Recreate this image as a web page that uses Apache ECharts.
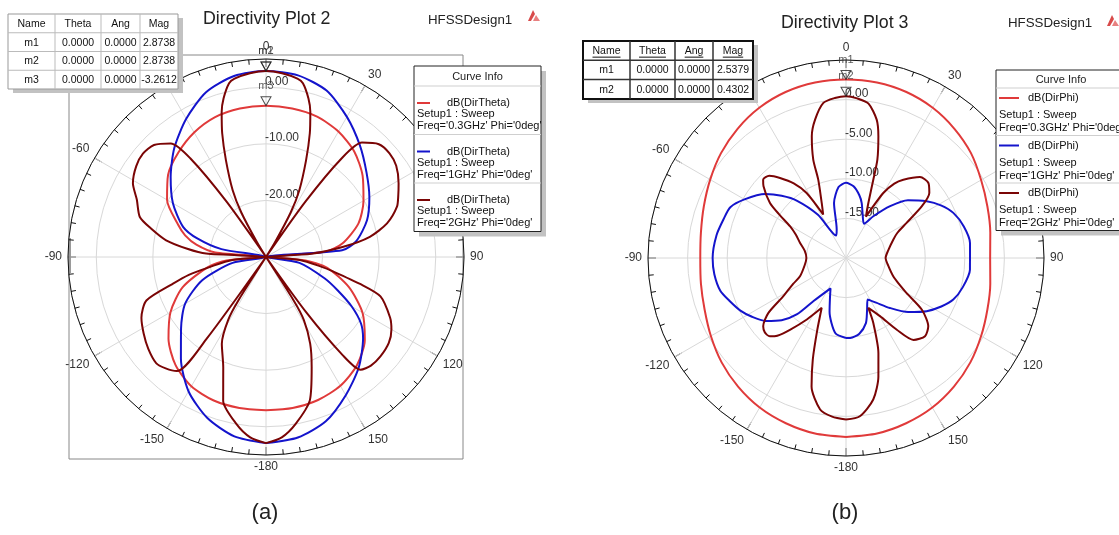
<!DOCTYPE html>
<html>
<head>
<meta charset="utf-8">
<script src="https://cdn.jsdelivr.net/npm/echarts@6/dist/echarts.min.js"></script>
<style>
html, body { margin: 0; padding: 0; background: #fff; }
#chart { width: 1119px; height: 535px; }
</style>
</head>
<body>
<div id="chart"></div>
<script>
// ---- Directivity data: [theta (deg, 0 = top, clockwise), directivity (dB)] ----

// Directivity Plot 2 : dB(DirTheta), Phi = 0deg
const plot2Freq03 = [[-180,-2.9],[-170,-2.9],[-160,-3.0],[-150,-3.6],[-140,-5.1],[-130,-7.5],[-120,-10.5],[-110,-14.3],[-100,-19.5],[-95,-23],[-90,-30],[-85,-21],[-80,-17.5],[-75,-15.2],[-70,-13.5],[-60,-9.8],[-50,-7.4],[-40,-5.9],[-30,-4.6],[-20,-3.7],[-10,-3.35],[0,-3.2612],[10,-3.35],[20,-3.6],[30,-4.4],[40,-5.7],[50,-7.7],[60,-10.1],[70,-12.6],[80,-16.3],[85,-19.5],[90,-30],[95,-23],[100,-19],[110,-14.4],[120,-10.3],[130,-7.2],[140,-5.0],[150,-3.7],[160,-3.1],[170,-2.9],[180,-2.9]];
const plot2Freq1 = [[-180,2.9],[-170,2.2],[-160,0.3],[-150,-2.6],[-140,-6.6],[-130,-10.4],[-120,-13.5],[-110,-18],[-100,-24],[-90,-30],[-80,-22],[-75,-17.5],[-70,-14.4],[-60,-11],[-50,-8.0],[-40,-4.8],[-30,-1.8],[-20,1.0],[-10,2.5],[0,2.8738],[10,2.6],[20,1.3],[30,-1.4],[40,-4.2],[50,-6.8],[60,-8.9],[70,-11.0],[80,-13.8],[85,-16.5],[90,-30],[100,-24],[110,-19],[115,-16],[120,-12.5],[125,-9.5],[130,-7.6],[140,-4.5],[150,-1.8],[160,0.9],[170,2.4],[180,2.9]];
const plot2Freq2 = [[-180,2.9],[-175,2.0],[-170,0.0],[-163.4,-3.5],[-158.8,-9.1],[-153,-12.8],[-149,-17],[-147.5,-21],[-145.5,-30],[-144,-12],[-142,-4.4],[-138,-3.5],[-134,-3.0],[-128,-3.6],[-122,-4.5],[-116,-5.5],[-110,-7.5],[-106,-12.9],[-103,-16],[-100,-20],[-95,-24],[-90,-30],[-86.7,-19.4],[-84,-16],[-80.5,-12.1],[-76,-9],[-72.4,-6.6],[-66,-5],[-61,-3.1],[-55,-2.0],[-50,-1.6],[-45,-2.0],[-40,-3.8],[-37.5,-8],[-35.5,-18],[-33,-30],[-31.5,-27],[-29,-21],[-26.5,-16.8],[-22.5,-11.5],[-19.5,-6.8],[-17,-3.2],[-15,-1.0],[-12,1.4],[-10,2.0],[-5,2.6],[0,2.8738],[5,2.6],[10,2.0],[12,1.4],[15,-1.0],[17,-3.2],[19.5,-6.8],[22.5,-11.5],[26.5,-16.8],[29,-21],[31.5,-27],[33,-30],[35.5,-18],[37.5,-8],[40,-3.6],[45,-1.8],[50,-1.5],[55,-1.9],[61,-3.2],[65,-4.2],[69,-5.2],[74.5,-7.8],[79,-11.3],[82.5,-16.2],[86,-22],[90,-30],[95,-24],[100,-20],[102,-18],[106,-12.7],[109,-8.6],[116,-5.6],[120,-4.4],[125,-3.5],[131,-3.2],[136,-3.3],[140,-4.0],[142,-8],[144,-18],[145.5,-30],[147.5,-21],[149,-17],[153,-12.8],[157.5,-8.9],[163,-3.5],[170,0.0],[175,2.0],[180,2.9]];

// Directivity Plot 3 : dB(DirPhi), Phi = 0deg
const plot3Freq03 = [[-180,2.6],[-170,2.5],[-160,2.2],[-150,1.8],[-140,1.2],[-130,0.5],[-120,-0.3],[-110,-1.0],[-100,-1.4],[-90,-1.6],[-80,-1.4],[-70,-0.9],[-60,-0.2],[-50,0.6],[-40,1.3],[-30,1.9],[-20,2.3],[-10,2.5],[0,2.5379],[10,2.5],[20,2.3],[30,1.9],[40,1.3],[50,0.6],[60,-0.3],[70,-1.0],[80,-1.5],[90,-1.8],[100,-1.5],[110,-1.0],[120,-0.3],[130,0.5],[140,1.2],[150,1.8],[160,2.2],[170,2.5],[180,2.6]];
const plot3Freq1 = [[-180,-9.9],[-172,-10.4],[-163,-12.9],[-158,-14.6],[-153,-15.7],[-143,-13.2],[-139,-10.6],[-134,-8.7],[-128,-7.1],[-122,-6.0],[-116.5,-5.1],[-110,-4.3],[-104.6,-3.6],[-97,-3.25],[-90,-3.16],[-80,-3.4],[-72,-3.8],[-66.3,-4.05],[-60,-5.2],[-51.6,-7.0],[-46,-8.7],[-40.5,-10.5],[-33,-13.5],[-24,-16.9],[-18,-16.2],[-12.3,-12.9],[-6,-11.0],[0,-10.5],[6,-10.9],[12,-11.9],[16,-12.8],[21.8,-14.3],[27.7,-15.1],[33.2,-13.7],[40.4,-11.4],[47,-9.3],[54.9,-7.55],[61,-6.3],[67.2,-5.3],[75,-4.6],[83.1,-4.23],[95.4,-4.28],[104,-4.8],[111.2,-5.47],[117,-6.5],[123.4,-7.8],[131,-9.6],[138.7,-11.6],[146,-13.2],[152.5,-14.1],[158,-12.9],[163,-11.4],[170,-10.3],[177,-9.9],[180,-9.9]];
const plot3Freq2 = [[-180,0.4],[-175,0.1],[-170.3,-0.6],[-165,-3.2],[-161.9,-6.5],[-158.2,-10.25],[-154,-13.0],[-147.5,-10.8],[-142,-8.5],[-138.5,-6.9],[-135.8,-6.2],[-132.5,-6.1],[-129.5,-6.45],[-125.3,-8.0],[-121.4,-10.7],[-116,-12.6],[-111.7,-13.75],[-100,-14.7],[-90,-15.0],[-80,-14.7],[-71.9,-13.9],[-65,-13.0],[-60.5,-11.9],[-57,-10],[-54.1,-8.15],[-49,-6.2],[-46.6,-5.6],[-43,-5.8],[-39.5,-6.9],[-35,-8.5],[-31.2,-10.4],[-27.7,-13.8],[-23.8,-12.4],[-19.5,-9.5],[-18.4,-6.9],[-15.7,-4.04],[-12.6,-2.1],[-8.3,-0.21],[-4,0.25],[0,0.4302],[4,0.2],[8.3,-0.3],[12.5,-2.1],[14.9,-4.1],[17.7,-6.97],[19.2,-9.5],[22.1,-12.5],[25.7,-14.2],[29.9,-10.5],[33,-8.8],[36.2,-7.75],[42.4,-6.15],[47.7,-5.93],[52,-6.65],[55.7,-8.4],[60,-11.2],[64,-12.8],[68.8,-13.6],[80,-14.6],[90,-15.0],[100,-14.6],[111.2,-13.6],[116,-12.6],[120,-11.2],[124.3,-8.4],[129.7,-6.5],[134.7,-5.96],[140.5,-6.6],[144.7,-8.9],[149.7,-11.5],[155.9,-13.1],[157.2,-11.1],[161.2,-7.3],[164.7,-4.5],[169.1,-1.8],[175,0.06],[180,0.4]];

// Marker tables
const markerNames2 = ['m1', 'm2', 'm3'];
const markerTheta2 = [0, 0, 0];
const markerAng2 = [0, 0, 0];
const markerMag2 = [2.8738, 2.8738, -3.2612];
const markerNames3 = ['m1', 'm2'];
const markerTheta3 = [0, 0];
const markerAng3 = [0, 0];
const markerMag3 = [2.5379, 0.4302];

// Curve info entries
const freqLabels = ["Freq='0.3GHz' Phi='0deg'", "Freq='1GHz' Phi='0deg'", "Freq='2GHz' Phi='0deg'"];
const colors = ['#e03a3a', '#1414cc', '#7a0505'];

const FONT = 'Arial, "Liberation Sans", Helvetica, sans-serif';
const measureCtx = document.createElement('canvas').getContext('2d');
function textWidth(t, size) { measureCtx.font = size + 'px ' + FONT; return measureCtx.measureText(t).width; }

// polar angles run 0..360 clockwise from the top; negative thetas wrap round
function toPolar(pairs) { return pairs.map(([t, d]) => [d, t < 0 ? t + 360 : t]); }

function angleAxis(i) {
  return {
    polarIndex: i, type: 'value', min: 0, max: 360, interval: 30,
    startAngle: 90, clockwise: true,
    axisLine: { lineStyle: { color: '#111', width: 1 } },
    axisTick: { show: true, inside: true, length: 8, lineStyle: { color: '#111', width: 1 } },
    minorTick: { show: true, splitNumber: 6, length: 5, lineStyle: { color: '#111', width: 1 } },
    splitLine: { show: true, lineStyle: { color: '#d8d8d8', width: 1 } },
    axisLabel: { color: '#333', fontSize: 12, fontFamily: FONT, margin: 6,
      formatter: v => String(v >= 180 ? v - 360 : v) }
  };
}
function radiusAxis(i, min, max, step) {
  return {
    polarIndex: i, type: 'value', min: min, max: max, interval: step,
    axisLine: { show: false }, axisTick: { show: false },
    splitLine: { show: true, lineStyle: { color: '#d8d8d8', width: 1 } },
    axisLabel: { color: '#333', fontSize: 12, fontFamily: FONT, margin: 1,
      align: 'left', verticalAlign: 'bottom',
      formatter: v => (v === min || v === max) ? '' : v.toFixed(2) }
  };
}
function curve(i, pairs, color) {
  return { type: 'line', coordinateSystem: 'polar', polarIndex: i, data: toPolar(pairs),
    showSymbol: false, smooth: 0.25, silent: true,
    lineStyle: { color: color, width: 2 }, z: 3 };
}
function markers(i, names, theta, mag) {
  return { type: 'scatter', coordinateSystem: 'polar', polarIndex: i, silent: true, z: 5,
    data: names.map((n, k) => ({ name: n, value: [mag[k], theta[k]] })),
    symbol: 'triangle', symbolSize: [10, 9], symbolRotate: 180, symbolOffset: [0, -4.5],
    itemStyle: { color: 'rgba(255,255,255,0)', borderColor: '#222', borderWidth: 1 },
    label: { show: true, position: 'top', distance: 5, formatter: p => p.name,
      color: '#333', fontSize: 11, fontFamily: FONT } };
}

function markerTable(x0, y0, cols, rowH, names, theta, ang, mag, boxed) {
  const els = [];
  const w = cols[cols.length - 1] - cols[0];
  const nRows = names.length + 1;
  const h = rowH * nRows;
  els.push({ type: 'rect', shape: { x: x0 + 5, y: y0 + 4, width: w, height: h }, style: { fill: '#c2c2c2' } });
  els.push({ type: 'rect', shape: { x: x0, y: y0, width: w, height: h },
    style: { fill: '#fff', stroke: boxed ? '#111' : '#999', lineWidth: boxed ? 2 : 1 } });
  for (let c = 1; c < cols.length - 1; c++)
    els.push({ type: 'line', shape: { x1: cols[c], y1: y0, x2: cols[c], y2: y0 + h },
      style: { stroke: boxed ? '#333' : '#bbb', lineWidth: boxed ? 1.5 : 1 } });
  for (let r = 1; r < nRows; r++)
    els.push({ type: 'line', shape: { x1: x0, y1: y0 + r * rowH, x2: x0 + w, y2: y0 + r * rowH },
      style: { stroke: boxed ? '#333' : '#bbb', lineWidth: boxed ? 1.5 : 1 } });
  const rows = [['Name', 'Theta', 'Ang', 'Mag']].concat(names.map((n, k) =>
    [n, theta[k].toFixed(4), ang[k].toFixed(4), mag[k].toFixed(4)]));
  rows.forEach((row, r) => row.forEach((t, c) => {
    const cx = (cols[c] + cols[c + 1]) / 2, cy = y0 + r * rowH + rowH / 2 + 0.5;
    els.push({ type: 'text', x: cx, y: cy, style: { text: t, fill: '#111', font: '10.5px ' + FONT, align: 'center', verticalAlign: 'middle' } });
    if (boxed && r === 0) {
      const tw = textWidth(t, 10.5);
      els.push({ type: 'line', shape: { x1: cx - tw / 2, y1: cy + 6, x2: cx + tw / 2, y2: cy + 6 }, style: { stroke: '#111', lineWidth: 1 } });
    }
  }));
  return els;
}

function curveInfo(x0, y0, w, headH, entryH, nameText, sampleLen, textX, offs) {
  const els = [];
  const h = headH + entryH * 3;
  els.push({ type: 'rect', shape: { x: x0 + 5, y: y0 + 5, width: w, height: h }, style: { fill: '#c2c2c2' } });
  els.push({ type: 'rect', shape: { x: x0, y: y0, width: w, height: h }, style: { fill: '#fff', stroke: '#222', lineWidth: 1 } });
  els.push({ type: 'text', x: x0 + w / 2, y: y0 + headH / 2 + 1, style: { text: 'Curve Info', fill: '#222', font: '11px ' + FONT, align: 'center', verticalAlign: 'middle' } });
  for (let k = 0; k < 3; k++) {
    const b = y0 + headH + k * entryH;
    els.push({ type: 'line', shape: { x1: x0, y1: b, x2: x0 + w, y2: b }, style: { stroke: '#cfcfcf', lineWidth: 1 } });
    els.push({ type: 'line', shape: { x1: x0 + 3, y1: b + offs[0], x2: x0 + 3 + sampleLen, y2: b + offs[0] }, style: { stroke: colors[k], lineWidth: 2 } });
    els.push({ type: 'text', x: x0 + textX, y: b + offs[0], style: { text: nameText, fill: '#111', font: '11px ' + FONT, align: 'left', verticalAlign: 'middle' } });
    els.push({ type: 'text', x: x0 + 3, y: b + offs[1], style: { text: 'Setup1 : Sweep', fill: '#111', font: '11px ' + FONT, align: 'left', verticalAlign: 'middle' } });
    els.push({ type: 'text', x: x0 + 3, y: b + offs[2], style: { text: freqLabels[k], fill: '#111', font: '11px ' + FONT, align: 'left', verticalAlign: 'middle' } });
  }
  return els;
}

function logo(x, y) {
  return [
    { type: 'polygon', shape: { points: [[x, y + 11], [x + 5, y], [x + 7, y + 4], [x + 3, y + 11]] }, style: { fill: '#d84a4a' } },
    { type: 'polygon', shape: { points: [[x + 5, y + 11], [x + 8, y + 5], [x + 12, y + 11]] }, style: { fill: '#e88080' } }
  ];
}

// overlays (tables, curve info boxes) sit above the polar axes
const overlays = [].concat(
  markerTable(8, 14, [8, 55, 101, 140, 178], 18.75, markerNames2, markerTheta2, markerAng2, markerMag2, false),
  markerTable(583, 41, [583, 630, 675, 713, 753], 19.3, markerNames3, markerTheta3, markerAng3, markerMag3, true),
  curveInfo(414, 66, 127, 20, 48.5, 'dB(DirTheta)', 13, 33, [17, 28, 40]),
  curveInfo(996, 70, 130, 18, 47.5, 'dB(DirPhi)', 20, 32, [10, 27, 40])
).map((e, k) => Object.assign(e, { z: 100, z2: k }));

const graphics = [].concat(
  // frame round plot 2
  [{ type: 'rect', z: -1, shape: { x: 69, y: 55, width: 394, height: 404 }, style: { fill: 'none', stroke: '#888', lineWidth: 1 } },
   { type: 'rect', z: -1, shape: { x: 68, y: 238, width: 3, height: 35 }, style: { fill: '#9a9a9a' } }],
  overlays,
  [
    { type: 'text', x: 203, y: 19, style: { text: 'Directivity Plot 2', fill: '#222', font: '17.8px ' + FONT, align: 'left', verticalAlign: 'middle' } },
    { type: 'text', x: 428, y: 20, style: { text: 'HFSSDesign1', fill: '#222', font: '13.3px ' + FONT, align: 'left', verticalAlign: 'middle' } },
    { type: 'text', x: 781, y: 23, style: { text: 'Directivity Plot 3', fill: '#222', font: '17.8px ' + FONT, align: 'left', verticalAlign: 'middle' } },
    { type: 'text', x: 1008, y: 23, style: { text: 'HFSSDesign1', fill: '#222', font: '13.3px ' + FONT, align: 'left', verticalAlign: 'middle' } },
    { type: 'text', x: 265, y: 513, style: { text: '(a)', fill: '#222', font: '22px ' + FONT, align: 'center', verticalAlign: 'middle' } },
    { type: 'text', x: 845, y: 513, style: { text: '(b)', fill: '#222', font: '22px ' + FONT, align: 'center', verticalAlign: 'middle' } }
  ],
  logo(528, 10), logo(1107, 15)
);

const chart = echarts.init(document.getElementById('chart'), null, { renderer: 'canvas' });
chart.setOption({
  animation: false,
  backgroundColor: '#fff',
  polar: [
    { center: [266, 257], radius: 198 },
    { center: [846, 258], radius: 198 }
  ],
  angleAxis: [angleAxis(0), angleAxis(1)],
  radiusAxis: [radiusAxis(0, -30, 5, 10), radiusAxis(1, -20, 5, 5)],
  series: [
    curve(0, plot2Freq03, colors[0]),
    curve(0, plot2Freq1, colors[1]),
    curve(0, plot2Freq2, colors[2]),
    markers(0, markerNames2, markerTheta2, markerMag2),
    curve(1, plot3Freq03, colors[0]),
    curve(1, plot3Freq1, colors[1]),
    curve(1, plot3Freq2, colors[2]),
    markers(1, markerNames3, markerTheta3, markerMag3)
  ],
  graphic: { elements: graphics }
});
</script>
</body>
</html>
